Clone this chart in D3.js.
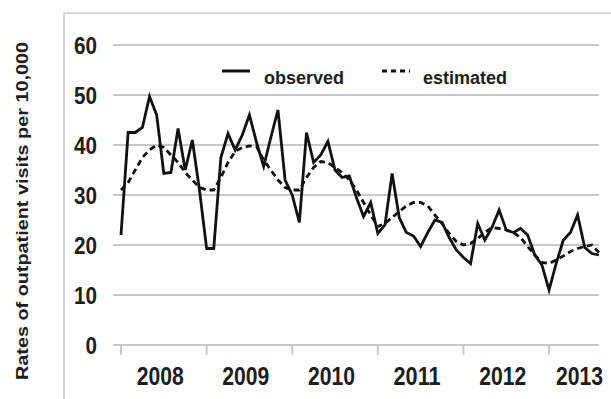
<!DOCTYPE html>
<html>
<head>
<meta charset="utf-8">
<script src="https://cdn.jsdelivr.net/npm/d3@7"></script>
<style>
  html, body { margin: 0; padding: 0; background: #fff; }
  svg { display: block; }
  text { font-family: "Liberation Sans Narrow", "Liberation Sans", "DejaVu Sans", sans-serif; fill: #1c1c1c; }
</style>
</head>
<body>
<svg id="chart" width="611" height="399"></svg>
<script>
// Monthly rates of outpatient visits per 10,000, Jan 2008 onward
const years = ["2008", "2009", "2010", "2011", "2012", "2013"];
const yTicks = [0, 10, 20, 30, 40, 50, 60];
const seriesNames = ["observed", "estimated"];

const observed = [
  22, 42.5, 42.5, 43.5, 49.7, 46, 34.3, 34.5, 43.3, 35, 41, 31,
  19.3, 19.3, 37.5, 42.3, 39, 42, 46, 40.5, 35.7, 41.5, 47, 33,
  30, 24.5, 42.5, 36.5, 38, 40.7, 35, 33.5, 33.8, 29.5, 25.7, 28.5,
  22.3, 24, 34.3, 25.5, 22.5, 21.8, 19.7, 22.5, 25, 24.5, 21.5, 19,
  17.5, 16.3, 24.3, 21, 23.5, 27, 23, 22.5, 23.3, 22, 18, 16,
  11, 16.3, 21, 22.5, 26, 19.5, 18.3, 18
];
const estimated = [
  31, 32.5, 35, 37.5, 39, 40, 39.5, 38, 36.5, 34.5, 33, 31.5,
  31, 31, 33.5, 36.5, 38.7, 39.5, 39.8, 39.7, 37, 35, 33, 31.5,
  31, 31, 33.5, 35.5, 36.7, 36.5, 35.5, 34.5, 33, 31, 28.5, 26,
  23.7, 24.3, 25.5, 26.7, 27.8, 28.5, 28.5, 27.8, 26, 24.3, 22.3, 20.7,
  20, 20.3, 21.3, 22.5, 23.5, 23.3, 23, 22.5, 21.5, 19.7, 18, 16.5,
  16.3, 17, 17.8, 18.7, 19.3, 19.7, 20, 18.5
];

const W = 611, H = 399;
const svg = d3.select("#chart");
const N = observed.length;

const x = d3.scaleLinear().domain([0, N - 1]).range([121, 599]);
const y = d3.scaleLinear().domain([0, 60]).range([345, 45]);

// outer chart frame
svg.append("rect")
  .attr("x", 64).attr("y", 13)
  .attr("width", W + 10).attr("height", H)
  .attr("fill", "none").attr("stroke", "#d8d8d8").attr("stroke-width", 2);

// horizontal gridlines
svg.append("g").selectAll("line").data(yTicks).join("line")
  .attr("x1", 113).attr("x2", x(N - 1))
  .attr("y1", d => y(d)).attr("y2", d => y(d))
  .attr("stroke", "#c8c8c8").attr("stroke-width", 2);

// y tick labels (condensed digits)
svg.append("g").selectAll("text").data(yTicks).join("text")
  .attr("x", 97).attr("y", d => y(d))
  .attr("text-anchor", "end").attr("dominant-baseline", "central")
  .attr("font-size", 24).attr("font-weight", "bold")
  .attr("textLength", d => String(d).length * 11.5)
  .attr("lengthAdjust", "spacingAndGlyphs")
  .text(d => d);

// year boundary ticks and labels
const yearStarts = years.map((yr, k) => k * 12);
svg.append("g").selectAll("line").data(yearStarts).join("line")
  .attr("x1", d => x(d)).attr("x2", d => x(d))
  .attr("y1", y(0)).attr("y2", y(0) + 10)
  .attr("stroke", "#c8c8c8").attr("stroke-width", 2);

const yearW = 47;
svg.append("g").selectAll("text").data(years).join("text")
  .attr("x", (d, k) => Math.min((x(k * 12) + x(k * 12 + 11)) / 2, W - 8 - yearW / 2))
  .attr("y", 385)
  .attr("text-anchor", "middle")
  .attr("font-size", 25).attr("font-weight", "bold")
  .attr("textLength", yearW).attr("lengthAdjust", "spacingAndGlyphs")
  .text(d => d);

// y axis title
svg.append("text")
  .attr("transform", "translate(28,211) rotate(-90)")
  .attr("text-anchor", "middle")
  .attr("font-size", 17).attr("font-weight", "bold")
  .attr("textLength", 338).attr("lengthAdjust", "spacingAndGlyphs")
  .text("Rates of outpatient visits per 10,000");

// series lines
const line = d3.line().x((d, i) => x(i)).y(d => y(d));
svg.append("path").datum(estimated)
  .attr("d", line).attr("fill", "none")
  .attr("stroke", "#111").attr("stroke-width", 2.8)
  .attr("stroke-dasharray", "6,4");
svg.append("path").datum(observed)
  .attr("d", line).attr("fill", "none")
  .attr("stroke", "#111").attr("stroke-width", 2.8)
  .attr("stroke-linejoin", "miter");

// legend
const legend = [
  { name: seriesNames[0], x0: 222, tx: 264, tw: 80, dash: null },
  { name: seriesNames[1], x0: 382, tx: 423, tw: 84, dash: "5,4" }
];
const lg = svg.append("g").selectAll("g").data(legend).join("g");
lg.append("line")
  .attr("x1", d => d.x0).attr("x2", d => d.x0 + 28)
  .attr("y1", 71).attr("y2", 71)
  .attr("stroke", "#111").attr("stroke-width", 3)
  .attr("stroke-dasharray", d => d.dash);
lg.append("text")
  .attr("x", d => d.tx).attr("y", 84)
  .attr("font-size", 18).attr("font-weight", "bold")
  .attr("textLength", d => d.tw).attr("lengthAdjust", "spacingAndGlyphs")
  .text(d => d.name);
</script>
</body>
</html>
